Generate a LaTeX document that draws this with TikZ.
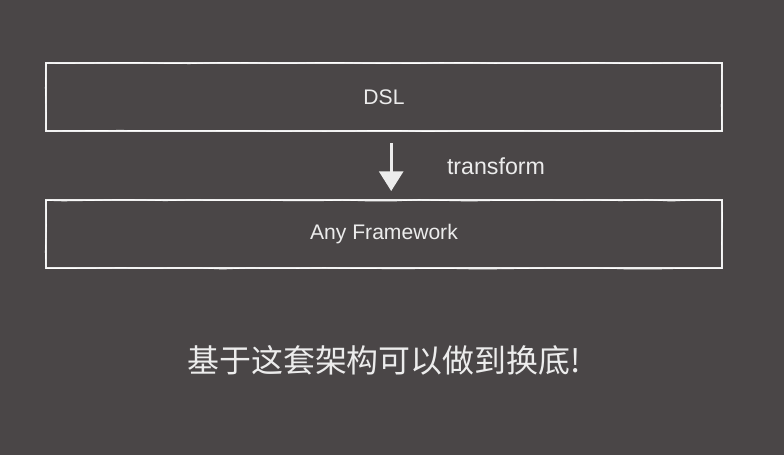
\documentclass[tikz,border=0pt]{standalone}
\usepackage{fontspec}
\setmainfont{Liberation Sans}
\newfontfamily\cjk{Noto Sans CJK SC}
\usepackage{tikz}
\usetikzlibrary{arrows.meta, positioning, decorations.pathmorphing}
\definecolor{slate}{RGB}{74,70,71}
\definecolor{chalk}{RGB}{236,236,236}

\begin{document}
\begin{tikzpicture}[
			layer/.style={
			draw=chalk,
			line width=1.3pt,
			minimum width=16.9cm,
			minimum height=1.7cm,
			text=chalk,
			font=\fontsize{15}{17}\selectfont,
			anchor=center,
			postaction={draw=white, line width=0.5pt, decorate,
				decoration={random steps, segment length=18pt, amplitude=0.5pt}},
		}, label/.style={
			text=chalk,
			font=\fontsize{16.5}{19}\selectfont,
			anchor=center,
		}, ]

% ------ background ------- %
\fill[slate] (0,0) rectangle (19.6,-11.375);
\useasboundingbox (0,0) rectangle (19.6,-11.375);

% ------ layers ------- %
\draw
(9.6,-2.425) node[layer](dsl){DSL}
(9.6,-5.86) node[layer](framework){Any Framework}
;

\draw [-{Triangle[width=17pt,length=14pt]}, line width=2.2pt, chalk, shorten <=8pt, shorten >=6pt]
	([xshift=0.18cm]dsl.south) -- ([xshift=0.18cm]framework.north);
\node[label] (transform) at (12.4,-4.15) {transform};

% ------ caption ------- %
\node[text=chalk, font=\cjk\fontsize{22.7}{27}\selectfont] (caption) at (9.6,-9.0) {基于这套架构可以做到换底!};

\end{tikzpicture}
\end{document}
